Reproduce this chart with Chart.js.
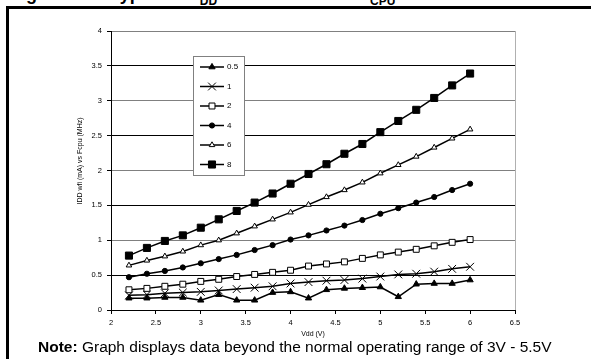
<!DOCTYPE html>
<html>
<head>
<meta charset="utf-8">
<script src="https://cdn.jsdelivr.net/npm/chart.js@4"></script>
<style>
  body { margin: 0; background: #fff; width: 591px; height: 359px; overflow: hidden; position: relative; font-family: "Liberation Sans", Arial, sans-serif; }
  #marco { position: absolute; left: 6px; top: 6px; width: 800px; height: 600px; border: 3px solid #000; }
  #titulo { position: absolute; left: 10px; top: -15px; font-size: 18px; font-weight: bold; line-height: 18px; white-space: nowrap; }
  #titulo sub { line-height: 0; font-size: 12px; }
  #titulo .sep { margin-left: 24px; }
  #grafico { position: absolute; left: 0; top: 0; }
  #nota { position: absolute; left: 38px; top: 339px; font-size: 15.5px; line-height: 15px; white-space: nowrap; }
</style>
</head>
<body>
<div id="titulo">Figure 102. Typical<span class="sep">I<sub>DD</sub></span> in WFI mode vs. f<sub>CPU</sub></div>
<div id="marco"></div>
<canvas id="grafico" width="591" height="359"></canvas>
<div id="nota"><b>Note:</b> Graph displays data beyond the normal operating range of 3V - 5.5V</div>

<script>
// Datos
const vdd = [2.2, 2.4, 2.6, 2.8, 3.0, 3.2, 3.4, 3.6, 3.8, 4.0, 4.2, 4.4, 4.6, 4.8, 5.0, 5.2, 5.4, 5.6, 5.8, 6.0];
const etiquetas = ['0.5', '1', '2', '4', '6', '8'];
const f05 = [0.17, 0.17, 0.18, 0.18, 0.14, 0.22, 0.14, 0.14, 0.25, 0.26, 0.17, 0.29, 0.31, 0.32, 0.33, 0.19, 0.37, 0.38, 0.38, 0.43];
const f1 = [0.21, 0.22, 0.24, 0.25, 0.26, 0.28, 0.30, 0.32, 0.34, 0.38, 0.40, 0.42, 0.43, 0.45, 0.48, 0.51, 0.52, 0.55, 0.59, 0.62];
const f2 = [0.29, 0.31, 0.34, 0.37, 0.41, 0.44, 0.48, 0.51, 0.54, 0.57, 0.63, 0.66, 0.69, 0.74, 0.79, 0.83, 0.87, 0.92, 0.97, 1.01];
const f4 = [0.47, 0.52, 0.56, 0.61, 0.67, 0.73, 0.79, 0.86, 0.93, 1.01, 1.07, 1.14, 1.21, 1.29, 1.38, 1.46, 1.54, 1.62, 1.72, 1.81];
const f6 = [0.64, 0.71, 0.77, 0.84, 0.93, 1.00, 1.10, 1.20, 1.30, 1.40, 1.51, 1.62, 1.72, 1.83, 1.96, 2.08, 2.20, 2.33, 2.46, 2.59];
const f8 = [0.78, 0.89, 0.99, 1.07, 1.18, 1.30, 1.42, 1.54, 1.67, 1.81, 1.95, 2.09, 2.24, 2.38, 2.55, 2.71, 2.87, 3.04, 3.22, 3.39];

const series = [f05, f1, f2, f4, f6, f8];
const estilos = [
  { pointStyle: 'triangle', radius: 3.6, fill: '#000' },
  { pointStyle: 'crossRot', radius: 5.5, fill: '#000' },
  { pointStyle: 'rect', radius: 4.2, fill: '#fff' },
  { pointStyle: 'circle', radius: 2.6, fill: '#000' },
  { pointStyle: 'triangle', radius: 3.2, fill: '#fff' },
  { pointStyle: 'rect', radius: 5.0, fill: '#000' }
];

const fuente = '"Liberation Sans", Arial, sans-serif';
Chart.defaults.font.family = fuente;
Chart.defaults.color = '#000';

const datasets = series.map((valores, i) => ({
  label: etiquetas[i],
  data: valores.map((v, j) => ({ x: vdd[j], y: v })),
  borderColor: '#000',
  borderWidth: 1.5,
  pointStyle: estilos[i].pointStyle,
  pointRadius: estilos[i].radius,
  pointBackgroundColor: estilos[i].fill,
  pointBorderColor: '#000',
  pointBorderWidth: 1,
  tension: 0
}));

// Leyenda dentro del area y titulos de ejes
const extras = {
  id: 'extras',
  afterDraw(chart) {
    const c = chart.ctx;
    c.save();
    c.fillStyle = '#fff';
    c.fillRect(193, 56, 51, 119);
    c.strokeStyle = '#808080';
    c.lineWidth = 1;
    c.strokeRect(193.5, 56.5, 51, 119);
    chart.data.datasets.forEach((ds, i) => {
      const y = 67 + i * 19.5;
      c.strokeStyle = '#000';
      c.lineWidth = 1.5;
      c.beginPath();
      c.moveTo(200, y);
      c.lineTo(224, y);
      c.stroke();
      c.fillStyle = ds.pointBackgroundColor;
      c.strokeStyle = '#000';
      c.lineWidth = 1;
      Chart.helpers.drawPoint(c, { pointStyle: ds.pointStyle, radius: ds.pointRadius, rotation: 0, borderWidth: 1 }, 212, y);
      c.fillStyle = '#000';
      c.font = '8px ' + fuente;
      c.textAlign = 'left';
      c.textBaseline = 'middle';
      c.fillText(ds.label, 227, y);
    });
    c.font = '7px ' + fuente;
    c.textAlign = 'center';
    c.textBaseline = 'middle';
    c.fillText('Vdd (V)', 313, 334);
    c.translate(80, 161);
    c.rotate(-Math.PI / 2);
    c.fillText('IDD wfi (mA) vs Fcpu (MHz)', 0, 0);
    c.restore();
  }
};

new Chart(document.getElementById('grafico'), {
  type: 'line',
  data: { datasets },
  options: {
    responsive: false,
    animation: false,
    devicePixelRatio: 1,
    layout: { padding: { left: 0, top: 31, right: 76, bottom: 0 } },
    plugins: { legend: { display: false }, tooltip: { enabled: false } },
    scales: {
      x: {
        type: 'linear',
        min: 2,
        max: 6.5,
        ticks: { stepSize: 0.5, font: { size: 7.5 }, padding: 4, maxRotation: 0, callback: v => String(v) },
        grid: {
          color: ctx => (ctx.tick && ctx.tick.value === 6.5 ? '#b0b0b0' : 'rgba(0,0,0,0)'),
          tickColor: '#000',
          tickLength: 4
        },
        border: { color: '#000', width: 1 },
        afterFit: scale => { scale.height = 49; }
      },
      y: {
        min: 0,
        max: 4,
        ticks: { stepSize: 0.5, font: { size: 7.5 }, padding: 5, callback: v => String(v) },
        grid: {
          color: ctx => {
            const v = ctx.tick ? ctx.tick.value : 0;
            if (v === 0) return '#000';
            return v % 1 === 0 ? '#808080' : '#000';
          },
          tickColor: '#000',
          tickLength: 4
        },
        border: { color: '#000', width: 1 },
        afterFit: scale => { scale.width = 111; }
      }
    }
  },
  plugins: [extras]
});
</script>
</body>
</html>
